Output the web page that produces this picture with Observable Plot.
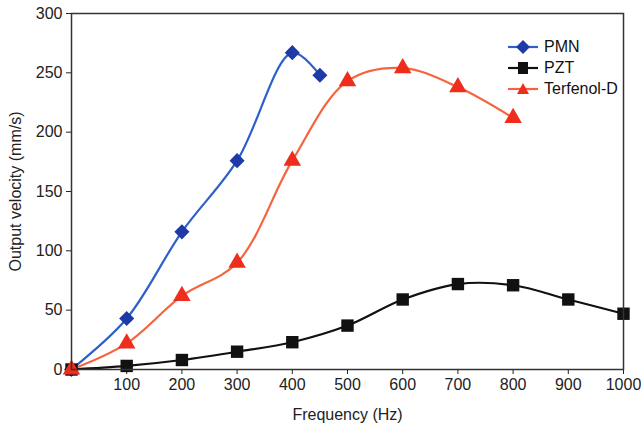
<!DOCTYPE html>
<html><head><meta charset="utf-8">
<script src="https://cdn.jsdelivr.net/npm/d3@7"></script>
<script src="https://cdn.jsdelivr.net/npm/@observablehq/plot@0.6"></script>
<style>
body{margin:0;background:#fff;font-family:"Liberation Sans",Arial,sans-serif;}
#wrap{position:relative;width:641px;height:429px;}
#legend{position:absolute;left:508px;top:36px;font-size:16px;color:#111;}
#legend div{display:flex;align-items:center;height:21px;}
#legend svg{margin-right:6px;}
</style></head><body>
<div id="wrap"><div id="chart"></div><div id="legend"></div></div>
<script>
const pmnFreq = [0,100,200,300,400,450];
const pmnVel  = [0,43,116,176,267,248];
const pztFreq = [0,100,200,300,400,500,600,700,800,900,1000];
const pztVel  = [0,3,8,15,23,37,59,72,71,59,47];
const terFreq = [0,100,200,300,400,500,600,700,800];
const terVel  = [0,22,62,90,176,243,254,238,212];
const xTicks = [100,200,300,400,500,600,700,800,900,1000];
const yTicks = [0,50,100,150,200,250,300];

const series = [
  {name:"PMN", f:pmnFreq, v:pmnVel, line:"#2f5fc9", fill:"#1f3aa6", symbol:"diamond2", r:6.8},
  {name:"PZT", f:pztFreq, v:pztVel, line:"#111", fill:"#111", symbol:"square", r:7},
  {name:"Terfenol-D", f:terFreq, v:terVel, line:"#f6643e", fill:"#ee2d1d", symbol:"triangle", r:6.5}
];
const tables = series.map(s => s.f.map((f,i)=>({f, v:s.v[i]})));

const marks = [];
series.forEach((s,k)=>{
  marks.push(Plot.line(tables[k], {x:"f", y:"v", stroke:s.line, strokeWidth:2.2, curve:"catmull-rom"}));
});
series.forEach((s,k)=>{
  marks.push(Plot.dot(tables[k], {x:"f", y:"v", fill:s.fill, stroke:"none", symbol:s.symbol, r:s.r}));
});
marks.push(Plot.frame({stroke:"#333", strokeWidth:1.5}));

const chart = Plot.plot({
  width:641, height:429,
  marginLeft:71, marginRight:18, marginTop:13, marginBottom:60,
  style:{fontFamily:"'Liberation Sans', Arial, sans-serif", fontSize:"16px", color:"#222", background:"#fff"},
  x:{domain:[0,1000], ticks:xTicks, tickFormat:d=>String(d), tickSize:5, tickPadding:4, label:"Frequency (Hz)", labelAnchor:"center", labelArrow:"none", labelOffset:50},
  y:{domain:[0,300], ticks:yTicks, tickFormat:d=>String(d), tickSize:5, tickPadding:4, label:"Output velocity (mm/s)", labelAnchor:"center", labelArrow:"none", labelOffset:62},
  marks
});
document.getElementById("chart").appendChild(chart);

const leg = document.getElementById("legend");
const sym = {diamond2:"M10,1 L17,8 L10,15 L3,8Z", square:"M5,2 H15 V14 H5Z", triangle:"M10,2 L16,13 L4,13Z"};
series.forEach(s=>{
  const d = document.createElement("div");
  d.innerHTML = `<svg width="30" height="16"><line x1="0" x2="30" y1="8" y2="8" stroke="${s.line}" stroke-width="2.2"/><path transform="translate(5,0)" d="${sym[s.symbol]}" fill="${s.fill}"/></svg><span>${s.name}</span>`;
  leg.appendChild(d);
});
</script>
</body></html>
